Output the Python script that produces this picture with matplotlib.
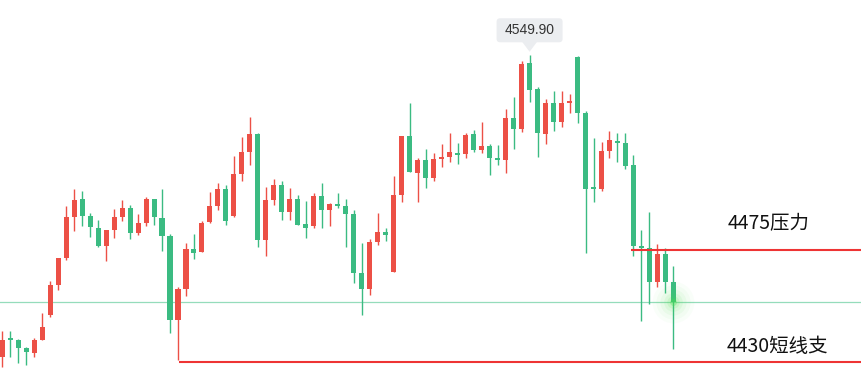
import matplotlib
matplotlib.use("Agg")
import matplotlib.pyplot as plt
from matplotlib.patches import Polygon, FancyBboxPatch
from matplotlib.transforms import IdentityTransform
import numpy as np

opens = [4432.0, 4439.0, 4438.5, 4435.5, 4433.5, 4438.6, 4448.3, 4460.1, 4470.7, 4486.7,
         4493.7, 4487.0, 4482.3, 4475.4, 4481.7, 4486.7, 4490.1, 4480.5, 4484.4, 4493.7,
         4486.2, 4479.2, 4446.4, 4458.6, 4474.1, 4473.0, 4484.8, 4491.0, 4497.6, 4487.1,
         4503.6, 4512.2, 4519.1, 4477.7, 4493.4, 4499.1, 4488.7, 4493.7, 4483.9, 4483.2,
         4494.8, 4489.5, 4491.7, 4490.9, 4487.8, 4464.7, 4458.6, 4477.0, 4480.7, 4465.2,
         4495.3, 4518.3, 4504.0, 4508.9, 4502.0, 4509.4, 4510.2, 4511.7, 4511.4, 4519.1,
         4513.0, 4514.4, 4509.7, 4509.0, 4525.4, 4521.2, 4546.9, 4536.7, 4519.2, 4531.2,
         4523.9, 4531.3, 4549.2, 4527.3, 4498.0, 4497.7, 4512.6, 4516.4, 4515.6, 4507.0,
         4474.8, 4474.5, 4461.3, 4472.1, 4461.2]
highs = [4442.0, 4442.0, 4438.9, 4435.9, 4439.3, 4449.1, 4461.6, 4470.6, 4490.9, 4497.6,
         4496.8, 4488.2, 4485.4, 4481.5, 4489.8, 4493.3, 4491.3, 4487.8, 4494.4, 4493.7,
         4497.6, 4480.0, 4459.2, 4476.4, 4480.0, 4485.1, 4496.4, 4499.9, 4499.1, 4510.5,
         4517.9, 4525.8, 4519.5, 4498.4, 4501.5, 4500.7, 4498.0, 4495.2, 4492.9, 4496.0,
         4499.9, 4492.1, 4496.0, 4493.7, 4489.4, 4476.4, 4478.0, 4488.2, 4482.3, 4502.7,
         4518.3, 4531.2, 4509.7, 4513.2, 4511.7, 4515.2, 4519.5, 4515.6, 4519.5, 4520.7,
         4523.8, 4515.2, 4514.8, 4528.9, 4533.6, 4547.7, 4549.9, 4537.5, 4532.8, 4535.9,
         4535.9, 4534.8, 4549.6, 4528.1, 4517.5, 4516.0, 4520.3, 4519.5, 4519.5, 4510.9,
         4481.5, 4488.6, 4476.1, 4474.5, 4467.4]
lows = [4428.0, 4432.0, 4429.6, 4428.8, 4432.0, 4438.6, 4447.6, 4458.1, 4469.8, 4481.1,
        4483.2, 4478.9, 4475.0, 4469.5, 4478.5, 4485.2, 4478.1, 4479.7, 4483.2, 4483.6,
        4473.4, 4441.3, 4430.8, 4455.8, 4470.3, 4473.0, 4484.4, 4489.5, 4483.6, 4486.7,
        4500.8, 4507.1, 4475.0, 4471.5, 4491.4, 4485.6, 4485.6, 4483.6, 4478.5, 4482.4,
        4482.4, 4483.2, 4490.1, 4475.0, 4460.9, 4448.4, 4456.2, 4475.8, 4477.3, 4465.2,
        4492.6, 4504.3, 4492.6, 4498.1, 4500.8, 4506.3, 4508.3, 4507.5, 4509.8, 4512.2,
        4511.8, 4503.2, 4507.1, 4504.0, 4513.3, 4520.0, 4531.7, 4510.2, 4515.3, 4520.4,
        4522.0, 4527.4, 4523.5, 4472.7, 4492.6, 4496.9, 4509.8, 4508.3, 4505.5, 4471.5,
        4446.0, 4452.7, 4459.3, 4457.0, 4434.9]
closes = [4438.5, 4438.6, 4435.5, 4433.9, 4438.5, 4443.6, 4460.0, 4470.6, 4486.6, 4493.3,
          4487.1, 4482.8, 4475.4, 4481.5, 4486.6, 4490.1, 4480.5, 4484.3, 4493.7, 4486.7,
          4479.3, 4446.4, 4458.4, 4474.1, 4472.7, 4484.3, 4490.9, 4497.6, 4485.2, 4503.4,
          4512.1, 4519.1, 4477.7, 4493.3, 4499.1, 4488.7, 4493.7, 4483.6, 4482.4, 4494.8,
          4489.5, 4491.7, 4490.9, 4487.9, 4464.8, 4458.6, 4476.8, 4480.7, 4479.7, 4495.2,
          4518.3, 4504.3, 4508.9, 4502.0, 4509.3, 4510.1, 4512.1, 4511.0, 4518.7, 4513.0,
          4514.4, 4509.8, 4509.0, 4525.4, 4521.2, 4546.5, 4536.4, 4519.6, 4531.2, 4523.9,
          4531.2, 4532.0, 4527.4, 4497.7, 4497.7, 4512.4, 4516.8, 4515.7, 4506.7, 4475.4,
          4474.5, 4461.3, 4472.1, 4461.3, 4453.2]

resistance = 4473.8
support = 4430.0
resistance_label = "4475压力"
support_label = "4430短线支"
peak_label = "4549.90"

RED = "#ec5046"
GREEN = "#3bbb82"
TIP = "#ebedf0"

fig = plt.figure(figsize=(8.62, 3.86), dpi=100)
ax = fig.add_axes([0, 0, 1, 1])
ax.set_axis_off()

n = len(opens)
x = np.arange(n)
o = np.array(opens); c = np.array(closes); h = np.array(highs); l = np.array(lows)
colors = [RED if cc > oo else GREEN for oo, cc in zip(o, c)]

ax.set_xlim(-0.275, 107.6)
ax.set_ylim(4420.49, 4571.53)

# current price line
ax.axhline(c[-1], color="#95dcbb", lw=0.9, zorder=1)

ax.vlines(x, l, h, colors=colors, lw=1.0, zorder=2)
bottoms = np.minimum(o, c)
heights = np.maximum(np.abs(c - o), 0.7)
ax.bar(x, heights, bottom=bottoms, width=0.63, color=colors, zorder=3, linewidth=0)

# support / resistance
ax.hlines(resistance, 78.7, 120, color="#ee3434", lw=1.5, zorder=4)
ax.hlines(support, 22.1, 120, color="#ee3434", lw=1.5, zorder=4)

cjk = ["Noto Sans CJK SC", "DejaVu Sans"]
ax.text(90.8, resistance + 10.2, resistance_label, fontsize=14, family=cjk,
        va="center", ha="left", color="#111111")
ax.text(90.6, support + 5.8, support_label, fontsize=14, family=cjk,
        va="center", ha="left", color="#111111")

# tooltip for peak (drawn in pixel offsets from the peak point)
ip = int(np.argmax(h))
px, py = ax.transData.transform((ip, h[ip]))
ident = IdentityTransform()
box = FancyBboxPatch((px - 33, py + 13), 66, 24,
                     boxstyle="round,pad=0,rounding_size=3.5",
                     fc=TIP, ec="none", transform=ident, zorder=6)
ax.add_patch(box)
tri = Polygon([[px - 7.5, py + 13.5], [px + 7.5, py + 13.5], [px, py + 3.5]],
              closed=True, fc=TIP, ec="none", transform=ident, zorder=6)
ax.add_patch(tri)
ax.text(px, py + 25, peak_label, fontsize=10, family=["Liberation Sans", "DejaVu Sans"],
        ha="center", va="center", color="#333333", zorder=7, transform=ident)

# glow on last candle
for s, a in [(900, 0.03), (600, 0.04), (350, 0.06), (180, 0.08), (80, 0.12), (25, 0.3)]:
    ax.scatter([n - 1], [c[-1]], s=s, color="#4ee04e", alpha=a, linewidths=0, zorder=5)

fig.savefig("out.png", dpi=100)
